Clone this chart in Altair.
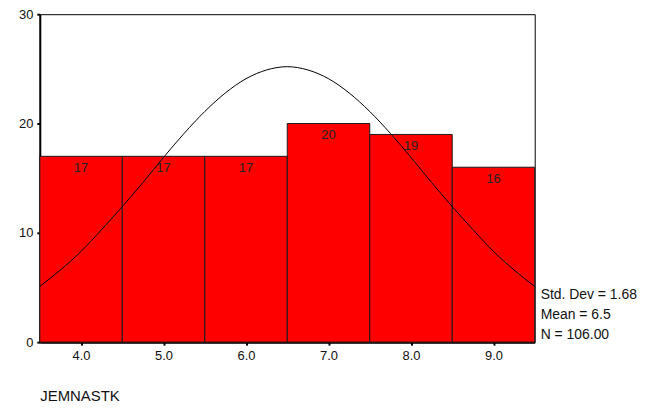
import altair as alt
import pandas as pd

# Histogram data
centers = [4.0, 5.0, 6.0, 7.0, 8.0, 9.0]
counts = [17, 17, 17, 20, 19, 16]

# Normal curve (x, frequency)
curve_x = [3.5, 3.75, 4.0, 4.25, 4.5, 4.75, 5.0, 5.25, 5.5, 5.75, 6.0, 6.25, 6.5,
           6.75, 7.0, 7.25, 7.5, 7.75, 8.0, 8.25, 8.5, 8.75, 9.0, 9.25, 9.5]
curve_y = [5.1, 6.6, 8.3, 10.3, 12.4, 14.6, 16.9, 19.1, 21.1, 22.8, 24.1, 24.9, 25.2,
           24.9, 24.1, 22.8, 21.1, 19.1, 16.9, 14.6, 12.4, 10.3, 8.3, 6.6, 5.1]

stats_lines = ["Std. Dev = 1.68", "Mean = 6.5", "N = 106.00"]
stats_y = [283, 303, 323]

FONT = "Liberation Sans"

bars_df = pd.DataFrame({"center": centers, "count": counts})
curve_df = pd.DataFrame({"x": curve_x, "y": curve_y})
stats_df = pd.DataFrame({"label": stats_lines, "py": stats_y})

xscale = alt.Scale(domain=[3.5, 9.5], nice=False, zero=False)
yscale = alt.Scale(domain=[0, 30], nice=False)

base = alt.Chart(bars_df).transform_calculate(
    lo="datum.center - 0.5", hi="datum.center + 0.5"
)

bars = base.mark_bar(color="#ff0000", stroke="#1a1a1a", strokeWidth=1).encode(
    x=alt.X("lo:Q", scale=xscale,
            axis=alt.Axis(values=centers, format=".1f", title="JEMNASTK",
                          grid=False, domainColor="black", domainWidth=2,
                          tickColor="black", tickWidth=2, tickSize=3,
                          labelFont=FONT, labelFontSize=13, labelColor="#111",
                          labelPadding=4,
                          titleFont=FONT, titleFontSize=15, titleFontWeight="normal",
                          titleColor="#111", titleAnchor="start", titleAlign="left",
                          titleX=0, titleY=54, titleBaseline="middle")),
    x2="hi:Q",
    y=alt.Y("count:Q", scale=yscale,
            axis=alt.Axis(values=[0, 10, 20, 30], title=None, grid=False,
                          domainColor="black", domainWidth=2,
                          tickColor="black", tickWidth=2, tickSize=3,
                          labelFont=FONT, labelFontSize=13, labelColor="#111",
                          labelPadding=4)),
    y2=alt.datum(0),
)

bar_labels = base.mark_text(font=FONT, fontSize=13, color="#222", dy=12,
                            baseline="middle").encode(
    x=alt.X("center:Q", scale=xscale),
    y=alt.Y("count:Q", scale=yscale),
    text=alt.Text("count:Q"),
)

curve = alt.Chart(curve_df).mark_line(color="black", strokeWidth=1,
                                      interpolate="monotone").encode(
    x=alt.X("x:Q", scale=xscale),
    y=alt.Y("y:Q", scale=yscale),
)

stats = alt.Chart(stats_df).mark_text(font=FONT, fontSize=14, color="#111",
                                      align="left", baseline="middle", dx=6).encode(
    x=alt.value(498),
    y=alt.Y("py:Q", scale=None),
    text="label:N",
)

chart = alt.layer(bars, bar_labels, curve, stats).properties(
    width=498, height=330,
    autosize=alt.AutoSizeParams(type="none"),
    padding={"left": 32, "top": 5, "right": 115, "bottom": 62},
    background="white",
).configure_view(stroke="black", strokeWidth=1)

chart.save("out.html", embed_options={"renderer": "svg", "actions": False})
